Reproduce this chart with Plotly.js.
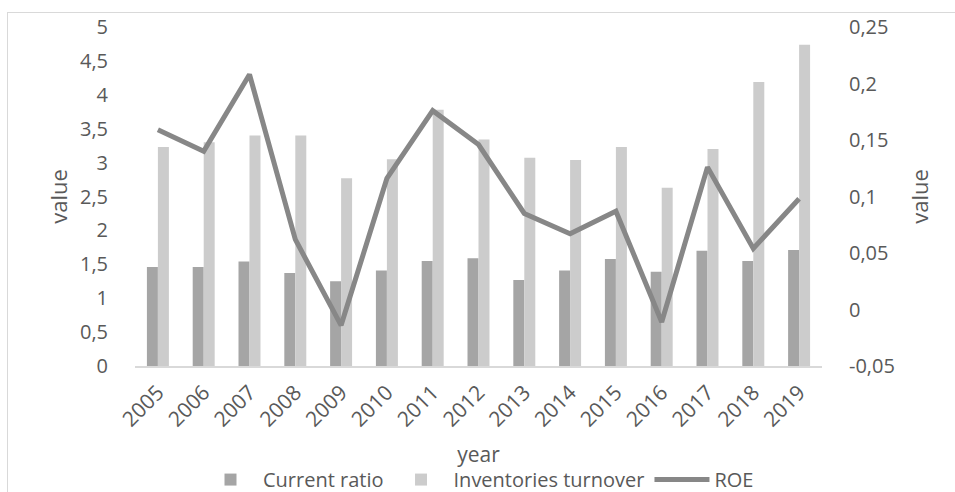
<!DOCTYPE html>
<html>
<head>
<meta charset="utf-8">
<script src="https://cdn.plot.ly/plotly-3.0.1.min.js"></script>
<style>
  html, body { margin: 0; padding: 0; background: #fff; overflow: hidden; }
  #frame { position: absolute; left: 7px; top: 12px; width: 1000px; height: 600px; border: 1px solid #d9d9d9; box-sizing: border-box; }
  #chart { position: absolute; left: 0; top: 0; width: 955px; height: 492px; }
</style>
</head>
<body>
<div id="frame"></div>
<div id="chart"></div>
<script>
const years = ['2005','2006','2007','2008','2009','2010','2011','2012','2013','2014','2015','2016','2017','2018','2019'];
const currentRatio = [1.46, 1.46, 1.54, 1.37, 1.25, 1.41, 1.55, 1.59, 1.27, 1.41, 1.58, 1.39, 1.70, 1.55, 1.71];
const inventoriesTurnover = [3.23, 3.30, 3.40, 3.40, 2.77, 3.05, 3.78, 3.34, 3.07, 3.04, 3.23, 2.63, 3.20, 4.19, 4.74];
const roe = [0.159, 0.140, 0.208, 0.062, -0.014, 0.116, 0.176, 0.146, 0.085, 0.067, 0.087, -0.011, 0.126, 0.054, 0.098];

const leftTickVals = [0, 0.5, 1, 1.5, 2, 2.5, 3, 3.5, 4, 4.5, 5];
const leftTickText = ['0', '0,5', '1', '1,5', '2', '2,5', '3', '3,5', '4', '4,5', '5'];
const rightTickVals = [-0.05, 0, 0.05, 0.1, 0.15, 0.2, 0.25];
const rightTickText = ['-0,05', '0', '0,05', '0,1', '0,15', '0,2', '0,25'];

const FONT = '"Open Sans", sans-serif';
const TXT = '#595959';

const traces = [
  { type: 'bar', name: 'Current ratio', x: years, y: currentRatio,
    marker: { color: '#a5a5a5' }, yaxis: 'y' },
  { type: 'bar', name: 'Inventories turnover', x: years, y: inventoriesTurnover,
    marker: { color: '#cccccc' }, yaxis: 'y' },
  { type: 'scatter', mode: 'lines', name: 'ROE', x: years, y: roe,
    line: { color: '#878787', width: 5 }, yaxis: 'y2' }
];

const layout = {
  width: 955, height: 492,
  margin: { l: 135, r: 133, t: 27, b: 126, pad: 0, autoexpand: false },
  paper_bgcolor: 'rgba(0,0,0,0)', plot_bgcolor: 'rgba(0,0,0,0)',
  font: { family: FONT, size: 19, color: TXT },
  barmode: 'group', bargap: 0.52, bargroupgap: 0,
  showlegend: true,
  legend: { orientation: 'h', x: 0.5, xanchor: 'center', y: -0.335, yanchor: 'middle',
            font: { family: FONT, size: 20, color: TXT }, traceorder: 'normal',
            itemwidth: 55, bgcolor: 'rgba(0,0,0,0)' },
  xaxis: {
    type: 'category', tickangle: -45, showgrid: false, zeroline: false,
    showline: true, linecolor: '#d9d9d9', linewidth: 2,
    ticks: 'outside', ticklen: 4, tickcolor: 'rgba(0,0,0,0)',
    tickfont: { family: FONT, size: 21, color: TXT },
    title: { text: 'year', font: { family: FONT, size: 21, color: TXT }, standoff: 16 },
    automargin: false, fixedrange: true
  },
  yaxis: {
    range: [0, 5], tickvals: leftTickVals, ticktext: leftTickText,
    showgrid: false, zeroline: false, showline: false,
    ticks: 'outside', ticklen: 22, tickcolor: 'rgba(0,0,0,0)',
    tickfont: { family: FONT, size: 20, color: TXT },
    title: { text: 'value', font: { family: FONT, size: 22, color: TXT }, standoff: 6 },
    automargin: false, fixedrange: true
  },
  yaxis2: {
    overlaying: 'y', side: 'right',
    range: [-0.05, 0.25], tickvals: rightTickVals, ticktext: rightTickText,
    showgrid: false, zeroline: false, showline: false,
    ticks: 'outside', ticklen: 22, tickcolor: 'rgba(0,0,0,0)',
    tickfont: { family: FONT, size: 20, color: TXT },
    title: { text: 'value', font: { family: FONT, size: 22, color: TXT }, standoff: 18 },
    automargin: false, fixedrange: true
  }
};

Plotly.newPlot('chart', traces, layout, { displayModeBar: false, staticPlot: true });
</script>
</body>
</html>
